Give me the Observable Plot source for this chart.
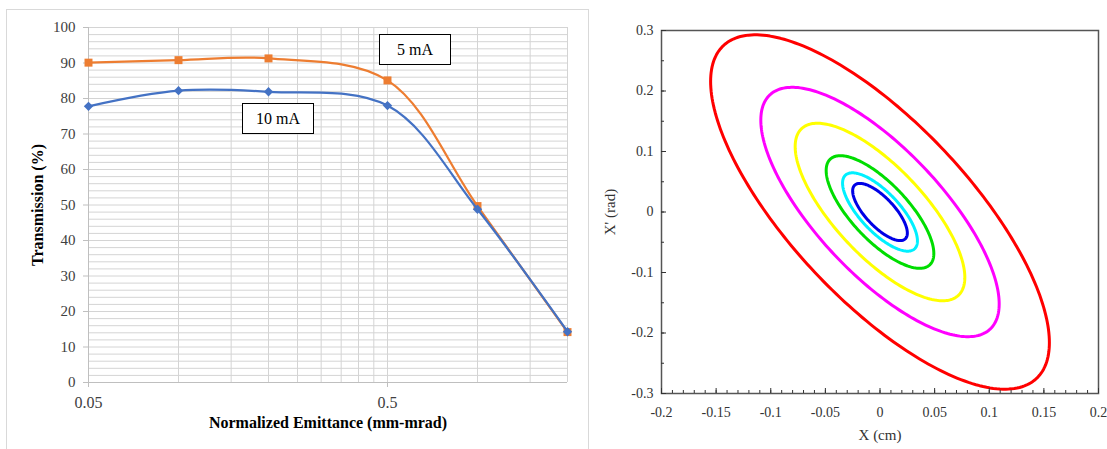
<!DOCTYPE html>
<html><head><meta charset="utf-8">
<script src="https://cdn.jsdelivr.net/npm/d3@7"></script>
<script src="https://cdn.jsdelivr.net/npm/@observablehq/plot@0.6"></script>
<style>
body{margin:0;background:#fff;width:1107px;height:449px;overflow:hidden;position:relative;font-family:"Liberation Serif",serif;}
#leftbox{position:absolute;left:6px;top:9px;width:583px;height:470px;border:1.5px solid #d9d9d9;box-sizing:border-box;}
#leftplot{position:absolute;left:7px;top:10px;}
#rightplot{position:absolute;left:600px;top:0px;}
#leftplot g[aria-label$="axis label"] text{font-weight:bold;fill:#000;font-size:16px;}
#rightplot g[aria-label$="axis label"] text{font-size:15px;}
.tag{position:absolute;border:1.5px solid #000;background:#fff;box-sizing:border-box;font:16px "Liberation Serif",serif;color:#000;display:flex;align-items:center;justify-content:center;}
</style>
</head><body>
<div id="leftbox"></div>
<div id="leftplot"></div>
<div id="rightplot"></div>
<div class="tag" style="left:379px;top:34px;width:72px;height:31px;">5 mA</div>
<div class="tag" style="left:242px;top:103px;width:72px;height:31px;">10 mA</div>
<script>
// ---- Left chart data ----
const emittance = [0.05, 0.1, 0.2, 0.5, 1.0, 2.0];
const trans5mA  = [90.1, 90.8, 91.3, 85.1, 49.7, 14.2];
const trans10mA = [77.8, 82.2, 81.9, 78.0, 48.8, 14.3];
const seriesNames = ["5 mA", "10 mA"];
const xTickLabels = [0.05, 0.5];
const xGrid = [0.05,0.1,0.15,0.2,0.25,0.3,0.35,0.4,0.45,0.5,1.0,1.5,2.0];
const yTicks = [0,10,20,30,40,50,60,70,80,90,100];
const yGrid = d3.range(0, 101, 2);

// ---- Right chart data (phase-space ellipses) ----
const ellipseColors = ["#ff0000", "#ff00ff", "#ffff00", "#00dd00", "#00f0ff", "#0000e6"];
const ellipseEmittance = [0.0307, 0.0152, 0.0077, 0.0031, 0.0015, 0.0008]; // cm·rad
const twissAlpha = 1.09, twissBeta = 0.783; // shared orientation
const rxTicks = [-0.2,-0.15,-0.1,-0.05,0,0.05,0.1,0.15,0.2];
const ryTicks = [-0.3,-0.2,-0.1,0,0.1,0.2,0.3];
const rxMinor = d3.range(-20, 21).map(i => i / 100);
const ryMinor = d3.range(-6, 7).map(i => i / 20);

const s5 = emittance.map((e,i) => ({e, t: trans5mA[i], s: seriesNames[0]}));
const s10 = emittance.map((e,i) => ({e, t: trans10mA[i], s: seriesNames[1]}));

const left = Plot.plot({
  width: 581, height: 439,
  marginLeft: 81, marginRight: 21, marginTop: 17, marginBottom: 67,
  style: {fontFamily: "Liberation Serif, serif", fontSize: "15px", color: "#404040", background: "transparent"},
  x: {type: "log", domain: [0.05, 2]},
  y: {domain: [0, 100]},
  marks: [
    Plot.gridX(xGrid, {stroke: "#d4d4d4", strokeOpacity: 1}),
    Plot.gridY(yGrid, {stroke: "#d4d4d4", strokeOpacity: 1}),
    Plot.ruleX([0.05], {stroke: "#bfbfbf"}),
    Plot.ruleY([0], {stroke: "#bfbfbf"}),
    Plot.axisY(yTicks, {tickSize: 5, tickPadding: 8, fontSize: 15, stroke: "#bfbfbf", label: "Transmission (%)", labelAnchor: "center", labelOffset: 57, labelArrow: "none"}),
    Plot.axisX(xTickLabels, {tickSize: 5, tickFormat: () => "", stroke: "#bfbfbf", label: "Normalized Emittance (mm-mrad)", labelAnchor: "center", labelOffset: 45, labelArrow: "none", fontSize: 15}),
    Plot.text(xTickLabels, {x: d => d, text: d => String(d), frameAnchor: "bottom", lineAnchor: "middle", dy: 20, fontSize: 16, fill: "#404040"}),
    Plot.line(s5, {x: "e", y: "t", stroke: "#ed7d31", strokeWidth: 2.25, curve: "catmull-rom"}),
    Plot.dot(s5, {x: "e", y: "t", symbol: "square", r: 4.5, fill: "#ed7d31", stroke: "none"}),
    Plot.line(s10, {x: "e", y: "t", stroke: "#4472c4", strokeWidth: 2.25, curve: "catmull-rom"}),
    Plot.dot(s10, {x: "e", y: "t", symbol: "diamond2", r: 4.2, fill: "#4472c4", stroke: "none"})
  ]
});
document.getElementById("leftplot").append(left);

// ellipse outlines from Twiss parameters
const ellipsePts = [];
ellipseEmittance.forEach((eps, k) => {
  const n = 240;
  for (let i = 0; i <= n; i++) {
    const th = 2 * Math.PI * i / n;
    ellipsePts.push({
      k,
      x: Math.sqrt(eps * twissBeta) * Math.cos(th),
      xp: -Math.sqrt(eps / twissBeta) * (twissAlpha * Math.cos(th) + Math.sin(th))
    });
  }
});

const right = Plot.plot({
  width: 507, height: 449,
  marginLeft: 61, marginRight: 9, marginTop: 30, marginBottom: 56,
  style: {fontFamily: "Liberation Serif, serif", fontSize: "14px", color: "#333", background: "transparent"},
  x: {domain: [-0.2, 0.2]},
  y: {domain: [-0.3, 0.3]},
  color: {type: "ordinal", domain: d3.range(ellipseColors.length), range: ellipseColors},
  marks: [
    Plot.line(ellipsePts, {x: "x", y: "xp", z: "k", stroke: "k", strokeWidth: 3}),
    Plot.frame({stroke: "#555", strokeWidth: 1.5}),
    Plot.axisX(rxMinor, {tickSize: -3, tickFormat: () => "", label: null, stroke: "#333"}),
    Plot.axisY(ryMinor, {tickSize: -3, tickFormat: () => "", label: null, stroke: "#333"}),
    Plot.axisX(rxTicks, {tickSize: -5, tickPadding: 19, fontSize: 14, stroke: "#333", tickFormat: d => String(d), label: "X (cm)", labelAnchor: "center", labelOffset: 46, labelArrow: "none"}),
    Plot.axisY(ryTicks, {tickSize: -5, tickPadding: 13, fontSize: 14, stroke: "#333", tickFormat: d => String(d), label: "X' (rad)", labelAnchor: "center", labelOffset: 57, labelArrow: "none"})
  ]
});
document.getElementById("rightplot").append(right);
</script>
</body></html>
